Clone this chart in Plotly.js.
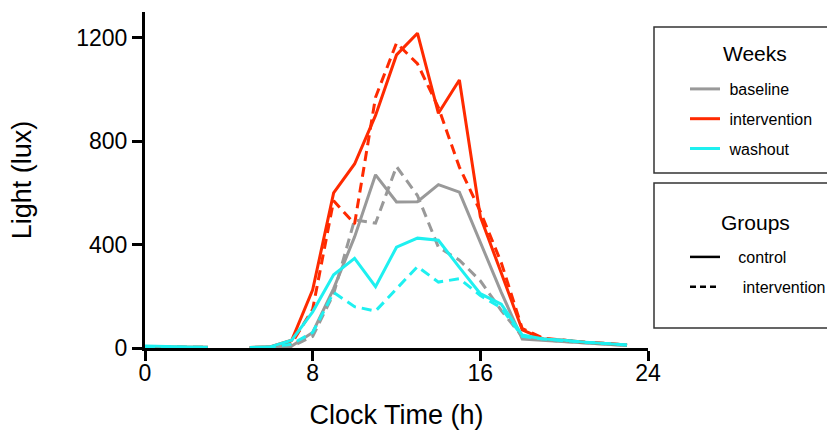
<!DOCTYPE html>
<html>
<head>
<meta charset="utf-8">
<script src="https://cdn.plot.ly/plotly-3.0.1.min.js"></script>
<style>html,body{margin:0;padding:0;background:#fff;}#chart{width:827px;height:434px;}</style>
</head>
<body>
<div id="chart"></div>
<script>
// Clock time (h); hour 4 has no data
var hours = [0,1,2,3,4,5,6,7,8,9,10,11,12,13,14,15,16,17,18,19,20,21,22,23];

// Light (lux) — control group (solid lines)
var baselineControl     = [3,2,2,2,null,0,2,8,60,230,430,670,565,566,632,603,410,215,35,30,25,20,15,10];
var interventionControl = [5,3,3,3,null,2,5,30,225,600,712,900,1134,1218,908,1037,508,290,70,35,30,22,18,12];
var washoutControl      = [8,5,4,3,null,2,5,30,140,283,347,237,390,425,417,312,210,170,50,35,30,22,18,12];

// Light (lux) — intervention group (dashed lines)
var baselineInterv      = [3,2,2,2,null,0,2,6,45,210,496,483,702,590,390,340,260,145,44,32,25,20,15,10];
var interventionInterv  = [4,3,3,3,null,1,3,18,150,570,480,970,1180,1100,930,700,528,330,75,38,30,22,18,12];
var washoutInterv       = [6,4,3,3,null,1,3,15,60,215,160,143,230,315,255,268,203,155,45,35,28,22,18,12];

var weekNames  = ['\u00a0baseline','\u00a0intervention','\u00a0washout'];
var weekColors = ['#999999','#ff2a00','#1ef0f0'];
var groupNames = ['\u00a0\u00a0\u00a0control','\u00a0\u00a0\u00a0\u00a0intervention'];
var tickX = [0,8,16,24];
var tickY = [0,400,800,1200];

var FONT = 'Liberation Sans, Arial, Helvetica, sans-serif';
var DASH = '10px,6px';
var LW = 3;

var controlSeries = [baselineControl, interventionControl, washoutControl];
var intervSeries  = [baselineInterv, interventionInterv, washoutInterv];

var traces = [];
for (var i = 0; i < 3; i++) {
  traces.push({
    x: hours, y: intervSeries[i], type: 'scatter', mode: 'lines',
    line: {color: weekColors[i], width: LW, dash: DASH},
    connectgaps: false, showlegend: false, hoverinfo: 'skip'
  });
  traces.push({
    x: hours, y: controlSeries[i], type: 'scatter', mode: 'lines',
    name: weekNames[i], legend: 'legend', legendgroup: 'w' + i,
    line: {color: weekColors[i], width: LW},
    connectgaps: false, showlegend: true, hoverinfo: 'skip'
  });
}
// Group legend samples (style keys only)
traces.push({x: [null], y: [null], type: 'scatter', mode: 'lines', name: groupNames[0],
  legend: 'legend2', legendgroup: 'g0', line: {color: '#000', width: 2.5}, hoverinfo: 'skip'});
traces.push({x: [null], y: [null], type: 'scatter', mode: 'lines', name: groupNames[1],
  legend: 'legend2', legendgroup: 'g1', line: {color: '#000', width: 2.5, dash: '6px,4px'}, hoverinfo: 'skip'});

var L = 145, R = 648, T = 12, B = 348;
function px(xp) { return (xp - L) / (R - L); }
function py(yp) { return (B - yp) / (B - T); }

var axisCommon = {
  showgrid: false, zeroline: false, showline: true, linecolor: '#000', linewidth: 3,
  ticks: 'outside', ticklen: 10, tickwidth: 3, tickcolor: '#000',
  tickfont: {family: FONT, size: 23, color: '#000'}, layer: 'below traces', fixedrange: true
};

var layout = {
  width: 827, height: 434,
  margin: {l: L, r: 827 - R, t: T, b: 434 - B, autoexpand: false},
  paper_bgcolor: '#fff', plot_bgcolor: '#fff',
  font: {family: FONT, color: '#000'},
  xaxis: Object.assign({}, axisCommon, {
    range: [0, 24], tickmode: 'array', tickvals: tickX, ticklabelstandoff: -8,
    title: {text: 'Clock Time (h)', font: {family: FONT, size: 27, color: '#000'}, standoff: 21}
  }),
  yaxis: Object.assign({}, axisCommon, {
    range: [0, 1300], tickmode: 'array', tickvals: tickY,
    title: {text: 'Light (lux)', font: {family: FONT, size: 27, color: '#000'}, standoff: 37}
  }),
  legend: {
    x: px(685), y: py(72), xanchor: 'left', yanchor: 'top',
    bgcolor: 'rgba(0,0,0,0)', borderwidth: 0,
    font: {family: FONT, size: 16, color: '#000'},
    traceorder: 'grouped', tracegroupgap: 6
  },
  legend2: {
    x: px(685), y: py(240), xanchor: 'left', yanchor: 'top',
    bgcolor: 'rgba(0,0,0,0)', borderwidth: 0,
    font: {family: FONT, size: 16, color: '#000'},
    traceorder: 'grouped', tracegroupgap: 6
  },
  shapes: [
    {type: 'rect', xref: 'paper', yref: 'paper', x0: px(654), x1: px(845), y0: py(173), y1: py(27),
     line: {color: '#333', width: 1.5}, fillcolor: 'rgba(0,0,0,0)'},
    {type: 'rect', xref: 'paper', yref: 'paper', x0: px(654), x1: px(845), y0: py(328), y1: py(183),
     line: {color: '#333', width: 1.5}, fillcolor: 'rgba(0,0,0,0)'}
  ],
  annotations: [
    {text: 'Weeks', xref: 'paper', yref: 'paper', x: px(755), y: py(53), xanchor: 'center', yanchor: 'middle',
     showarrow: false, font: {family: FONT, size: 21, color: '#000'}},
    {text: 'Groups', xref: 'paper', yref: 'paper', x: px(755), y: py(222), xanchor: 'center', yanchor: 'middle',
     showarrow: false, font: {family: FONT, size: 21, color: '#000'}}
  ]
};

Plotly.newPlot('chart', traces, layout, {staticPlot: true, displayModeBar: false});
</script>
</body>
</html>
